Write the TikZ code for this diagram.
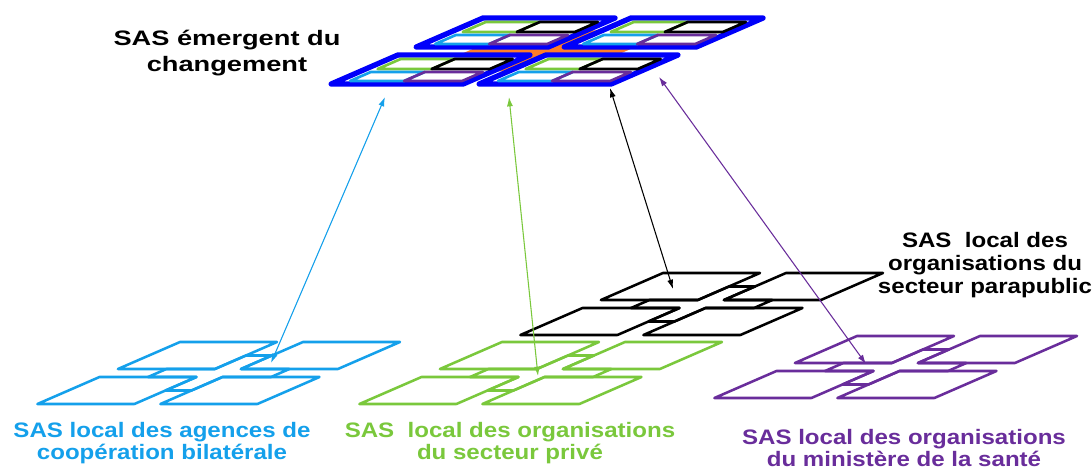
\documentclass[tikz,border=0pt]{standalone}
\usepackage{fontspec}
\usepackage{xcolor}
\usepackage{tikz}
\usetikzlibrary{arrows.meta,positioning}

\newfontfamily\sasfont[FakeStretch=1.15]{Liberation Sans}
\newfontfamily\sastopfont[FakeStretch=1.3]{Liberation Sans}

\definecolor{sasblue}{RGB}{20,160,235}
\definecolor{sasgreen}{RGB}{122,200,60}
\definecolor{saspurple}{RGB}{105,45,155}
\definecolor{frameblue}{RGB}{0,0,250}
\definecolor{crossorange}{RGB}{255,125,40}

\tikzset{
  sastile/.style={line width=1.9pt,line join=round},
  sasframe/.style={line width=4pt,line join=round,frameblue},
  subtile/.style={line width=2pt,line join=round},
  saslabel/.style={font=\sasfont\bfseries\fontsize{15.7}{17}\selectfont,align=center,inner sep=0pt},
  toplabel/.style={font=\sastopfont\bfseries\fontsize{15.7}{19.5}\selectfont,align=center,inner sep=0pt},
  sasarrow/.style={<->,line width=0.8pt},
}

% local SAS: four tiles and the cross between them
\newcommand{\localsas}[3]{%
  \begin{scope}[shift={(#2,#3)},xslant=2.3,sastile,color=#1]
    \foreach \u in {0,123}{
      \foreach \v in {0,35}{
        \draw (\u,\v) -- ++(97,0) -- ++(0,27) -- ++(-97,0) -- cycle;
      }
    }
    \draw (48.5,27) -- (97,27) -- (97,13.5) -- (123,13.5) -- (123,27) -- (171.5,27)
      -- (171.5,35) -- (123,35) -- (123,48.5) -- (97,48.5) -- (97,35) -- (48.5,35) -- cycle;
  \end{scope}}

\begin{document}
\begin{tikzpicture}[x=0.75pt,y=-0.75pt,>={Latex[length=7pt,width=4.5pt]}]
\path[fill=white] (0,0) rectangle (1092,470);
\useasboundingbox (0,0) rectangle (1092,470);

% local grids
\localsas{sasblue}{180}{342}
\localsas{sasgreen}{502}{342}
\localsas{black}{663}{273}
\localsas{saspurple}{857}{336}

% emergent SAS
\begin{scope}[shift={(483,18)},xslant=2.3]
  \draw[crossorange,fill=crossorange,line width=3pt] (66,29) -- (132,29) -- (132,14.5) -- (148,14.5) -- (148,29) -- (214,29)
    -- (214,37) -- (148,37) -- (148,51.5) -- (132,51.5) -- (132,37) -- (66,37) -- cycle;
  \foreach \u in {0,148}{
    \foreach \v in {0,37}{
      \draw[sasframe] (\u,\v) -- ++(132,0) -- ++(0,29) -- ++(-132,0) -- cycle;
      \draw[subtile,sasgreen] (\u+12,\v+4) -- ++(54,0) -- ++(0,10) -- ++(-54,0) -- cycle;
      \draw[subtile,black] (\u+66,\v+4) -- ++(58,0) -- ++(0,10) -- ++(-58,0) -- cycle;
      \draw[subtile,sasblue] (\u+12,\v+17) -- ++(54,0) -- ++(0,9) -- ++(-54,0) -- cycle;
      \draw[subtile,saspurple] (\u+66,\v+17) -- ++(58,0) -- ++(0,9) -- ++(-58,0) -- cycle;
    }
  }
\end{scope}

% arrow ends
\coordinate (blueTop) at (385,97);
\coordinate (blueBot) at (271,363);
\coordinate (greenTop) at (509,97);
\coordinate (greenBot) at (538,376);
\coordinate (blackTop) at (610,88);
\coordinate (blackBot) at (673,289);
\coordinate (purpleTop) at (659,77);
\coordinate (purpleBot) at (866,364);

\draw[sasarrow,sasblue] (blueTop) -- (blueBot);
\draw[sasarrow,sasgreen] (greenTop) -- (greenBot);
\draw[sasarrow,black] (blackTop) -- (blackBot);
\draw[sasarrow,saspurple] (purpleTop) -- (purpleBot);

% labels
\node[toplabel] (emergentLabel) at (227,53) {SAS émergent du\\changement};
\node[saslabel,sasblue] (blueLabel) at (162,443) {SAS local des agences de\\coopération bilatérale};
\node[saslabel,sasgreen] (greenLabel) at (510,443) {SAS\ \ local des organisations\\du secteur privé};
\node[saslabel] (blackLabel) at (985,265) {SAS\ \ local des\\organisations du\\secteur parapublic};
\node[saslabel,saspurple] (purpleLabel) at (904,448) {SAS local des organisations\\du ministère de la santé};
\end{tikzpicture}
\end{document}
